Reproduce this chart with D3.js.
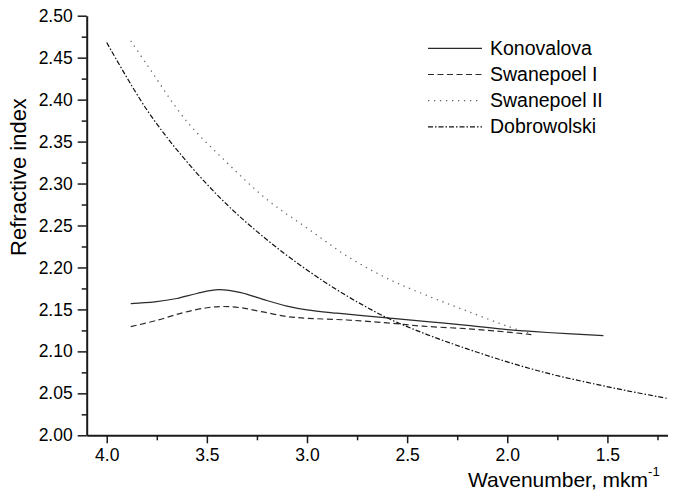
<!DOCTYPE html>
<html>
<head>
<meta charset="utf-8">
<script src="https://cdn.jsdelivr.net/npm/d3@7/dist/d3.min.js"></script>
<style>
  html, body { margin: 0; padding: 0; background: #fff; }
  svg { display: block; font-family: "Liberation Sans", Arial, Helvetica, sans-serif; }
</style>
</head>
<body>
<svg id="chart" width="679" height="492"></svg>
<script>
// Refractive index vs wavenumber for four evaluation methods
const seriesNames = ["Konovalova", "Swanepoel I", "Swanepoel II", "Dobrowolski"];

const konovalovaX = [3.88, 3.76, 3.65, 3.55, 3.44, 3.33, 3.22, 3.10, 3.00, 2.85, 2.60, 2.40, 2.20, 2.00, 1.80, 1.52];
const konovalovaY = [2.157, 2.159, 2.163, 2.169, 2.1735, 2.170, 2.162, 2.154, 2.1495, 2.1455, 2.140, 2.1355, 2.131, 2.126, 2.1225, 2.1187];

const swanepoel1X = [3.88, 3.75, 3.62, 3.50, 3.42, 3.33, 3.22, 3.10, 3.00, 2.80, 2.60, 2.42, 2.20, 2.00, 1.88];
const swanepoel1Y = [2.1295, 2.137, 2.146, 2.152, 2.1535, 2.152, 2.147, 2.1415, 2.1395, 2.1374, 2.134, 2.130, 2.127, 2.123, 2.120];

const swanepoel2X = [3.88, 3.80, 3.60, 3.40, 3.20, 3.00, 2.80, 2.60, 2.40, 2.20, 2.00, 1.89];
const swanepoel2Y = [2.470, 2.442, 2.374, 2.325, 2.281, 2.247, 2.2135, 2.187, 2.1664, 2.148, 2.130, 2.1216];

const dobrowolskiX = [4.00, 3.80, 3.60, 3.40, 3.20, 3.00, 2.80, 2.60, 2.40, 2.20, 2.00, 1.80, 1.60, 1.40, 1.20];
const dobrowolskiY = [2.468, 2.388, 2.326, 2.275, 2.233, 2.197, 2.166, 2.140, 2.120, 2.103, 2.0875, 2.074, 2.063, 2.053, 2.044];

const xMajorTicks = [4.0, 3.5, 3.0, 2.5, 2.0, 1.5];
const xMinorTicks = [3.75, 3.25, 2.75, 2.25, 1.75, 1.25];
const yMajorTicks = [2.00, 2.05, 2.10, 2.15, 2.20, 2.25, 2.30, 2.35, 2.40, 2.45, 2.50];
const yMinorTicks = [2.025, 2.075, 2.125, 2.175, 2.225, 2.275, 2.325, 2.375, 2.425, 2.475];

const xTitle = "Wavenumber, mkm";
const xTitleSup = "-1";
const yTitle = "Refractive index";

const margin = { top: 15.7, right: 11.5, bottom: 56.7, left: 86.7 };
const width = 679, height = 492;

const svg = d3.select("#chart");

const x = d3.scaleLinear().domain([4.1, 1.2]).range([margin.left, width - margin.right]);
const y = d3.scaleLinear().domain([2.0, 2.5]).range([height - margin.bottom, margin.top]);

const ink = "#1a1a1a";

// Axes: major ticks with labels, minor ticks without
svg.append("g")
  .attr("transform", `translate(0,${y(2.0)})`)
  .call(d3.axisBottom(x).tickValues(xMajorTicks).tickSize(8).tickSizeOuter(0).tickPadding(5)
    .tickFormat(d3.format(".1f")));
svg.append("g")
  .attr("transform", `translate(0,${y(2.0)})`)
  .call(d3.axisBottom(x).tickValues(xMinorTicks).tickSize(5).tickSizeOuter(0).tickFormat(""))
  .call(g => g.select(".domain").remove());

svg.append("g")
  .attr("transform", `translate(${x(4.1)},0)`)
  .call(d3.axisLeft(y).tickValues(yMajorTicks).tickSize(9).tickSizeOuter(0).tickPadding(5)
    .tickFormat(d3.format(".2f")));
svg.append("g")
  .attr("transform", `translate(${x(4.1)},0)`)
  .call(d3.axisLeft(y).tickValues(yMinorTicks).tickSize(5).tickSizeOuter(0).tickFormat(""))
  .call(g => g.select(".domain").remove());

svg.selectAll(".domain").attr("stroke", ink).attr("stroke-width", 2);
svg.selectAll(".tick line").attr("stroke", ink).attr("stroke-width", 1.5);
svg.selectAll(".tick text").attr("fill", "#000").attr("font-size", 17.5)
  .attr("font-family", "'Liberation Sans', Arial, sans-serif");

// Axis titles
const xt = svg.append("text")
  .attr("x", 468).attr("y", 487)
  .attr("font-size", 21).attr("fill", "#000");
xt.append("tspan").text(xTitle);
xt.append("tspan").attr("font-size", 13).attr("dy", -11).text(xTitleSup);

svg.append("text")
  .attr("transform", `translate(26,177) rotate(-90)`)
  .attr("text-anchor", "middle")
  .attr("font-size", 22).attr("fill", "#000")
  .text(yTitle);

// Curves
const styles = [
  { dash: null, color: "#2a2a2a", w: 1.2 },
  { dash: "6,3.5", color: "#2a2a2a", w: 1.2 },
  { dash: "1.3,4.7", color: "#666", w: 1.3 },
  { dash: "5,2,1.5,2", color: "#111", w: 1.2 }
];
const seriesX = [konovalovaX, swanepoel1X, swanepoel2X, dobrowolskiX];
const seriesY = [konovalovaY, swanepoel1Y, swanepoel2Y, dobrowolskiY];

const line = d3.line()
  .x(d => x(d[0]))
  .y(d => y(d[1]))
  .curve(d3.curveCatmullRom.alpha(0.5));

seriesNames.forEach((name, i) => {
  const pts = seriesX[i].map((v, j) => [v, seriesY[i][j]]);
  svg.append("path")
    .datum(pts)
    .attr("fill", "none")
    .attr("stroke", styles[i].color)
    .attr("stroke-width", styles[i].w)
    .attr("stroke-dasharray", styles[i].dash)
    .attr("d", line);
});

// Legend
const legend = svg.append("g");
seriesNames.forEach((name, i) => {
  const yy = 48.3 + i * 26.2;
  legend.append("line")
    .attr("x1", 428).attr("x2", 482).attr("y1", yy).attr("y2", yy)
    .attr("stroke", styles[i].color)
    .attr("stroke-width", styles[i].w)
    .attr("stroke-dasharray", styles[i].dash);
  legend.append("text")
    .attr("x", 490).attr("y", yy + 6.5)
    .attr("font-size", 19.5).attr("fill", "#000")
    .text(name);
});
</script>
</body>
</html>
